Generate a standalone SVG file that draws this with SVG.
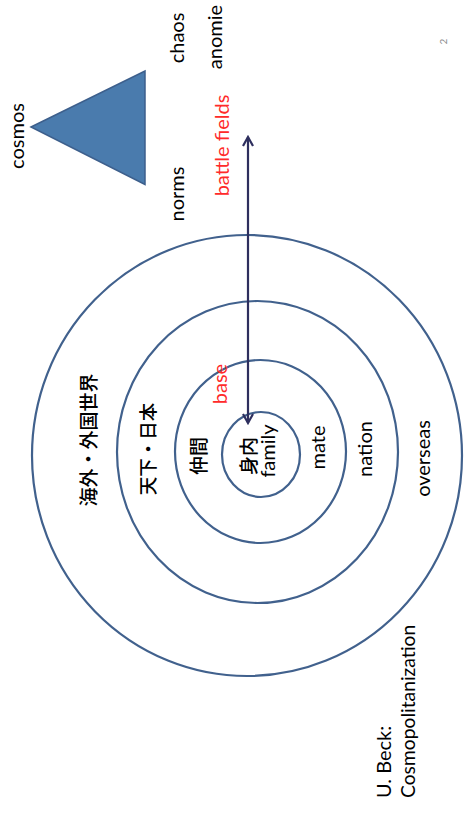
<svg xmlns="http://www.w3.org/2000/svg" width="465" height="817" viewBox="0 0 465 817">
<style>
.bg{fill:#ffffff}
.ring{fill:none;stroke:#41618d;stroke-width:2.2}
.lat{font-family:Lato,"Liberation Sans",sans-serif;font-size:20px;fill:#000;text-anchor:middle}
.red{fill:#ff2a2a}
.cjk{font-family:"Noto Sans CJK JP",sans-serif;font-size:19px;font-weight:500;fill:#000;text-anchor:middle;dominant-baseline:central}
.pg{font-family:Lato,"Liberation Sans",sans-serif;font-size:10px;fill:#8c8c8c;text-anchor:middle}
.arr{fill:none;stroke:#2e2f5e;stroke-width:2.2}
</style>
<defs>
<marker id="chev" markerUnits="userSpaceOnUse" viewBox="-12 -7 14 14" refX="0" refY="0" markerWidth="14" markerHeight="14" orient="auto-start-reverse">
<path d="M-9,-5 L0,0 L-9,5" fill="none" stroke="#2e2f5e" stroke-width="2.2" stroke-linejoin="miter"/>
</marker>
</defs>
<rect class="bg" x="0" y="0" width="465" height="817"/>

<g id="triangle">
<polygon points="31,127 145,71 145,184.5" fill="#4a7bad" stroke="#3d5f8c" stroke-width="1.5"/>
</g>

<g id="ring-overseas"><ellipse class="ring" cx="247" cy="455.5" rx="215" ry="220.5"/></g>
<g id="ring-nation"><ellipse class="ring" cx="257.5" cy="452" rx="140.5" ry="151"/></g>
<g id="ring-mate"><ellipse class="ring" cx="260.5" cy="451.5" rx="85.5" ry="91.5"/></g>
<g id="ring-family"><ellipse class="ring" cx="261" cy="454.5" rx="39" ry="42.5"/></g>

<g id="connectors">
<line class="arr" x1="248" y1="423" x2="248" y2="137" marker-start="url(#chev)" marker-end="url(#chev)"/>
</g>

<g id="labels">
<text class="lat" transform="translate(24,136) rotate(-90)">cosmos</text>
<text class="lat" transform="translate(183.5,38) rotate(-90)">chaos</text>
<text class="lat" transform="translate(222,37) rotate(-90)">anomie</text>
<text class="lat" transform="translate(183.5,194) rotate(-90)">norms</text>
<text class="lat red" transform="translate(229,145.5) rotate(-90)">battle fields</text>
<text class="pg" transform="translate(447,41.5) rotate(-90)">2</text>
<text class="cjk" transform="translate(87,440) rotate(-90)">海外・外国世界</text>
<text class="cjk" transform="translate(147,449) rotate(-90)" style="font-size:18.5px">天下・日本</text>
<text class="cjk" transform="translate(197.5,456) rotate(-90)">仲間</text>
<text class="lat red" transform="translate(227,384) rotate(-90)">base</text>
<text class="cjk" transform="translate(247,456) rotate(-90)">身内</text>
<text class="lat" transform="translate(275,451) rotate(-90)">family</text>
<text class="lat" transform="translate(325,447.5) rotate(-90)">mate</text>
<text class="lat" transform="translate(372,449) rotate(-90)">nation</text>
<text class="lat" transform="translate(430,458.5) rotate(-90)">overseas</text>
<text class="lat" transform="translate(391,798) rotate(-90)" style="text-anchor:start">U. Beck:</text>
<text class="lat" transform="translate(415,798) rotate(-90)" style="text-anchor:start;font-size:19.3px">Cosmopolitanization</text>
</g>
</svg>
